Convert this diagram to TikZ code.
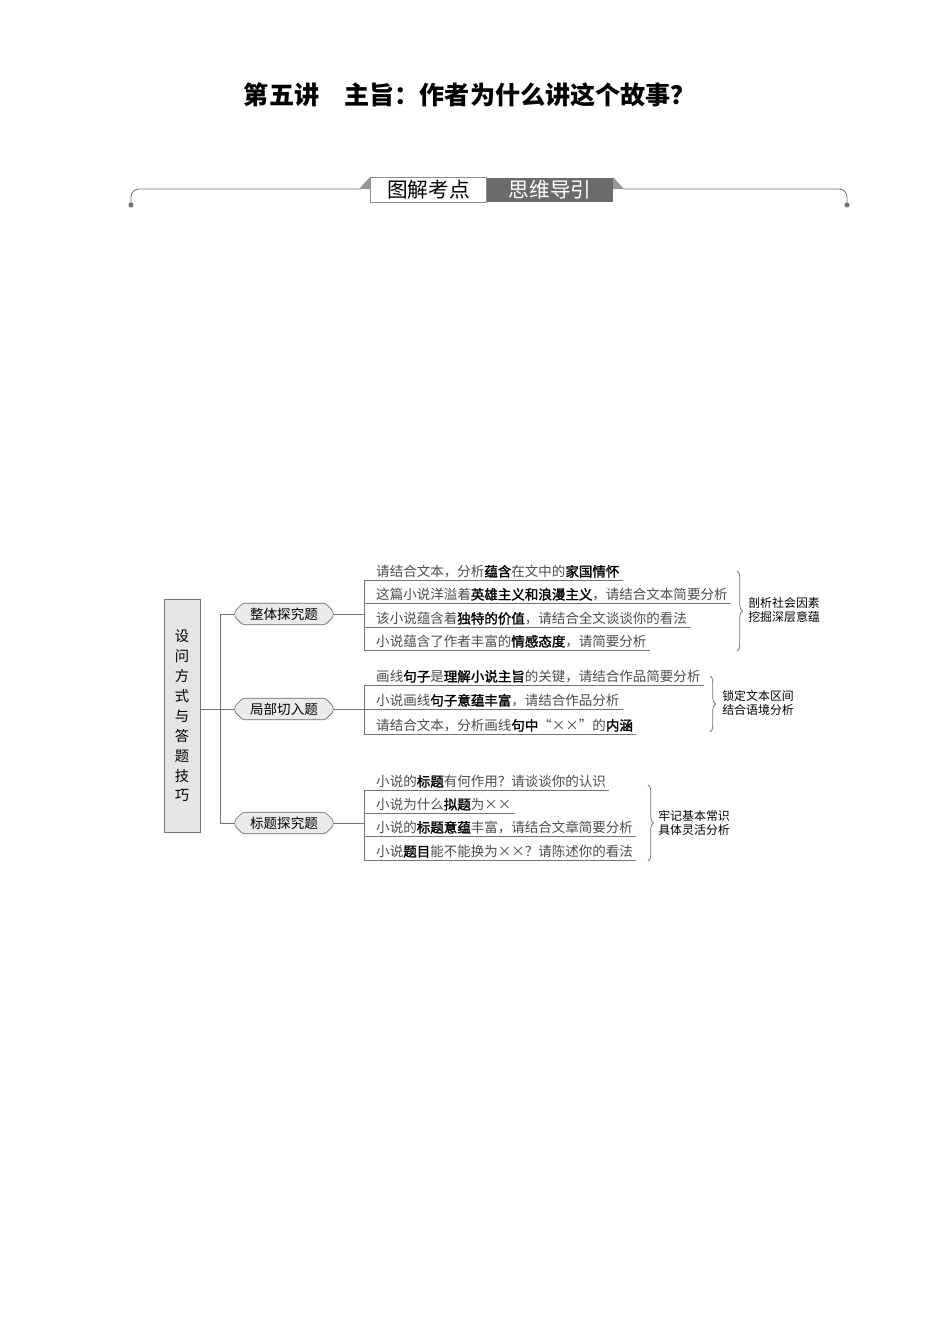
\documentclass[tikz,border=0pt]{standalone}
\usepackage{fontspec}
\setmainfont{Noto Sans CJK SC}
\newfontfamily\kwfont[FakeBold=1.6]{Noto Sans CJK SC}
\usetikzlibrary{shapes.misc, decorations.pathreplacing}
\newcommand{\kw}[1]{\textcolor{black}{\kwfont #1}}
\newcommand{\dbx}{\makebox[1em]{×}}
\newcommand{\lqm}{\makebox[1em][r]{“}}
\newcommand{\rqm}{\makebox[1em][l]{”}}
\begin{document}
\begin{tikzpicture}[x=0.022105cm, y=-0.022105cm,
    lnk/.style={draw=black!55, line width=0.5pt},
    ques/.style={anchor=south west, inner sep=0pt, text height=7pt, text depth=2pt,
      font=\fontsize{8.5}{10}\selectfont, text=black!70,
      execute at begin node={\hspace*{7.5pt}}, execute at end node={\hspace*{2pt}},
      append after command={(\tikzlastnode.south west) edge[lnk] (\tikzlastnode.south east)}},
    kind/.style={chamfered rectangle, chamfered rectangle xsep=2.5pt, chamfered rectangle ysep=2.5pt,
      rounded corners=1.5pt, draw=black!60, fill=black!8, minimum width=62pt, minimum height=13.5pt,
      inner sep=0pt, font=\fontsize{8.5}{10}\selectfont},
    brc/.style={draw=black!55, line width=0.5pt, decorate, decoration={brace, amplitude=3.5pt}},
    lbl/.style={anchor=west, align=left, inner sep=0pt, font=\fontsize{7.5}{8.8}\selectfont}]
  \useasboundingbox (0,0) rectangle (950,1344);

  \node[font=\bfseries\fontsize{15.8}{18}\selectfont] (title) at (470,95) {第五讲　主旨：作者为什么讲这个故事？};

  \draw[lnk, rounded corners=5pt] (131,205) |- (359,189);
  \draw[lnk, rounded corners=5pt] (624,189) -| (847,205);
  \fill[black!55] (131,205) circle (1.6pt) (847,205) circle (1.6pt);
  \fill[black!40] (359,189) -- (370,177) -- (370,189) -- cycle;
  \fill[black!40] (613,177) -- (624,189) -- (613,189) -- cycle;
  \node[draw=black!45, fill=white, minimum width=73.3pt, minimum height=15.7pt, inner sep=0pt,
    font=\fontsize{13}{14}\selectfont] (tag1) at (428.5,190) {图解考点};
  \node[fill=black!58, text=white, minimum width=79pt, minimum height=15.7pt, inner sep=0pt,
    font=\fontsize{13}{14}\selectfont] (tag2) at (550,190) {思维导引};

  \node[draw=black!55, fill=black!10, minimum width=22.6pt, minimum height=146.6pt, align=center,
    inner sep=0pt, font=\fontsize{9}{12.5}\selectfont] (root) at (182,716)
    {设\\问\\方\\式\\与\\答\\题\\技\\巧};

  \node[kind] (c1) at (284,614) {整体探究题};
  \node[kind] (c2) at (284,709) {局部切入题};
  \node[kind] (c3) at (284,823) {标题探究题};
  \coordinate (sp) at (220,614);
  \draw[lnk] (c1.west) -| (sp |- c3) -- (c3.west);
  \draw[lnk] (root.east |- c2) -- (c2.west);

  \node[ques] (a1) at (364,580) {请结合文本，分析\kw{蕴含}在文中的\kw{家国情怀}};
  \node[ques] (a2) at (364,603) {这篇小说洋溢着\kw{英雄主义和浪漫主义}，请结合文本简要分析};
  \node[ques] (a3) at (364,627) {该小说蕴含着\kw{独特的价值}，请结合全文谈谈你的看法};
  \node[ques] (a4) at (364,650) {小说蕴含了作者丰富的\kw{情感态度}，请简要分析};
  \draw[lnk] (a1.south west) -- (a4.south west);
  \draw[lnk] (c1.east) -- (c1 -| a1.south west);

  \node[ques] (b1) at (364,685) {画线\kw{句子}是\kw{理解小说主旨}的关键，请结合作品简要分析};
  \node[ques] (b2) at (364,709) {小说画线\kw{句子意蕴丰富}，请结合作品分析};
  \node[ques] (b3) at (364,734) {请结合文本，分析画线\kw{句中}\lqm\dbx\dbx\rqm 的\kw{内涵}};
  \draw[lnk] (b1.south west) -- (b3.south west);
  \draw[lnk] (c2.east) -- (c2 -| b1.south west);

  \node[ques] (d1) at (364,790) {小说的\kw{标题}有何作用？请谈谈你的认识};
  \node[ques] (d2) at (364,813) {小说为什么\kw{拟题}为\dbx\dbx};
  \node[ques] (d3) at (364,836) {小说的\kw{标题意蕴}丰富，请结合文章简要分析};
  \node[ques] (d4) at (364,860) {小说\kw{题目}能不能换为\dbx\dbx？请陈述你的看法};
  \draw[lnk] (d1.south west) -- (d4.south west);
  \draw[lnk] (c3.east) -- (c3 -| d1.south west);

  \draw[brc] (737,571) -- (737,651);
  \draw[brc] (710,676) -- (710,732);
  \draw[brc] (648,785) -- (648,861);
  \node[lbl] (t1) at (748,610) {剖析社会因素\\挖掘深层意蕴};
  \node[lbl] (t2) at (722,703) {锁定文本区间\\结合语境分析};
  \node[lbl] (t3) at (658,823) {牢记基本常识\\具体灵活分析};
\end{tikzpicture}
\end{document}
